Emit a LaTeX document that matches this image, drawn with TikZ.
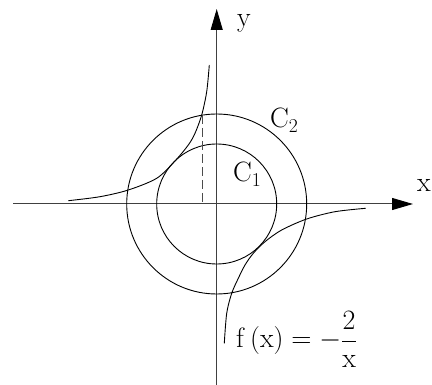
\RequirePackage{fix-cm}
\documentclass[tikz,border=0pt]{standalone}
\usetikzlibrary{arrows.meta}
\begin{document}
\begin{tikzpicture}[x=1pt,y=-1pt,
  axis/.style={line width=1pt,draw=black!75,-{Triangle[length=21pt,width=12pt,color=black]}},
  circ/.style={line width=0.9pt,draw=black},
  curve/.style={line width=0.9pt,draw=black},
  lbl/.style={inner sep=0pt,anchor=base west,font=\fontsize{28}{34}\selectfont}]
\useasboundingbox (0,0) rectangle (432,385);
\coordinate (O) at (216.7,204);
\coordinate (ybot) at (216.7,385);
\coordinate (ytop) at (216.7,9);
\coordinate (xl) at (13,204);
\coordinate (xr) at (413,204);
\draw[axis] (ybot) -- (ytop);
\draw[axis] (xl) -- (xr);
\draw[circ] (O) circle[radius=60];
\draw[circ] (O) circle[radius=90];
\coordinate (dtop) at (202.3,115);
\coordinate (dbot) at (202.3,204);
\draw[line width=0.9pt,draw=black!70,dash pattern=on 9pt off 4pt] (dtop) -- (dbot);
\draw[curve] plot[smooth,tension=0.5] coordinates {(68.3,200.7) (100,196.7) (128.3,190) (156.7,178.3) (175,161) (188.3,145) (195,133.3) (201.7,115) (206.7,91.7) (209.3,65)};
\draw[curve] plot[smooth,tension=0.5] coordinates {(365.7,208.3) (335,211.7) (306.7,219) (281.7,230) (265,241.7) (253.3,253.3) (245,265) (238.3,278.3) (231.7,293.3) (226.7,313.3) (224.3,343.3)};
\node[lbl] (ylab) at (237,27) {y};
\node[lbl] (xlab) at (417,192) {x};
\node[lbl] (c2) at (270,128) {C$_2$};
\node[lbl] (c1) at (233,182) {C$_1$};
\node[lbl] (f) at (236,348) {$\displaystyle\mathrm{f}\,(\mathrm{x}) = -\frac{2}{\mathrm{x}}$};
\end{tikzpicture}
\end{document}
